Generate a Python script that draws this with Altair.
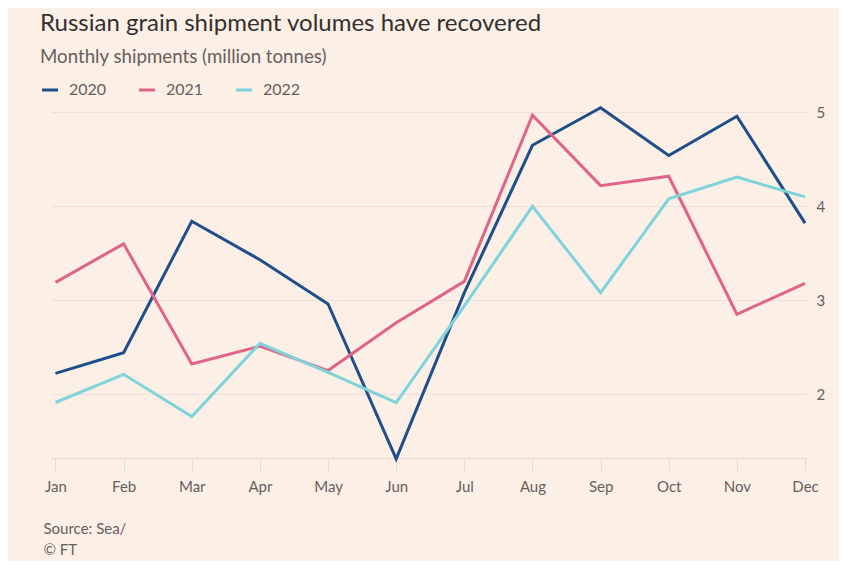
import altair as alt
import pandas as pd

months = ["Jan", "Feb", "Mar", "Apr", "May", "Jun", "Jul", "Aug", "Sep", "Oct", "Nov", "Dec"]
y2020 = [2.22, 2.44, 3.84, 3.43, 2.96, 1.31, 3.08, 4.65, 5.05, 4.54, 4.96, 3.82]
y2021 = [3.19, 3.60, 2.32, 2.51, 2.25, 2.76, 3.20, 4.97, 4.22, 4.32, 2.85, 3.18]
y2022 = [1.91, 2.21, 1.76, 2.54, 2.23, 1.91, 2.94, 4.00, 3.08, 4.08, 4.31, 4.10]
series = ["2020", "2021", "2022"]
colors = ["#1e4f8a", "#e0648a", "#7fd3db"]

rows = []
for name, vals in zip(series, [y2020, y2021, y2022]):
    for i, v in enumerate(vals):
        rows.append({"idx": i, "month": months[i], "year": name, "value": v})
df = pd.DataFrame(rows)

label_expr = "[" + ",".join("'" + m + "'" for m in months) + "][datum.value]"

FONT = "Lato"
GREY = "#66605c"

chart = alt.Chart(df).mark_line(strokeWidth=3).encode(
    x=alt.X("idx:Q",
            scale=alt.Scale(domain=[-0.066, 11.029], nice=False, zero=False),
            axis=alt.Axis(values=list(range(12)), labelExpr=label_expr,
                          grid=False, tickSize=13, tickColor="#e6dbd2",
                          domainColor="#e6dbd2", labelColor=GREY, labelFont=FONT,
                          labelFontSize=15, labelPadding=8,
                          title=["Source: Sea/", "© FT"], titleFont=FONT,
                          titleFontSize=15, titleFontWeight="normal",
                          titleColor=GREY, titleAnchor="start", titleAlign="left",
                          titleX=-8, titleY=75, titleBaseline="alphabetic",
                          titleLineHeight=21)),
    y=alt.Y("value:Q",
            scale=alt.Scale(domain=[1.319, 5.1], nice=False, zero=False),
            axis=alt.Axis(orient="right", values=[2, 3, 4, 5], format="d",
                          domain=False, ticks=False, gridColor="#ece1d8",
                          labelColor=GREY, labelFont=FONT, labelFontSize=15,
                          labelPadding=9, title=None)),
    color=alt.Color("year:N",
                    scale=alt.Scale(domain=series, range=colors),
                    legend=alt.Legend(title=None, orient="none", legendX=-11,
                                      legendY=-23, direction="horizontal",
                                      symbolType="stroke", symbolStrokeWidth=3,
                                      symbolSize=260, labelFont=FONT,
                                      labelFontSize=16, labelColor=GREY,
                                      columnPadding=25, labelOffset=9)),
).properties(
    width=756,
    height=355,
    background="#fcefe6",
    padding={"left": 32, "top": 4, "right": 14, "bottom": 4},
    title=alt.TitleParams(
        text="Russian grain shipment volumes have recovered",
        subtitle="Monthly shipments (million tonnes)",
        anchor="start", dx=0, font=FONT, fontSize=24, fontWeight="normal",
        color="#33302e", subtitleFont=FONT, subtitleFontSize=18.7,
        subtitleColor=GREY, subtitlePadding=12, offset=13,
    ),
).configure_view(stroke=None)

chart.save("out.html", embed_options={"renderer": "svg", "actions": False})
